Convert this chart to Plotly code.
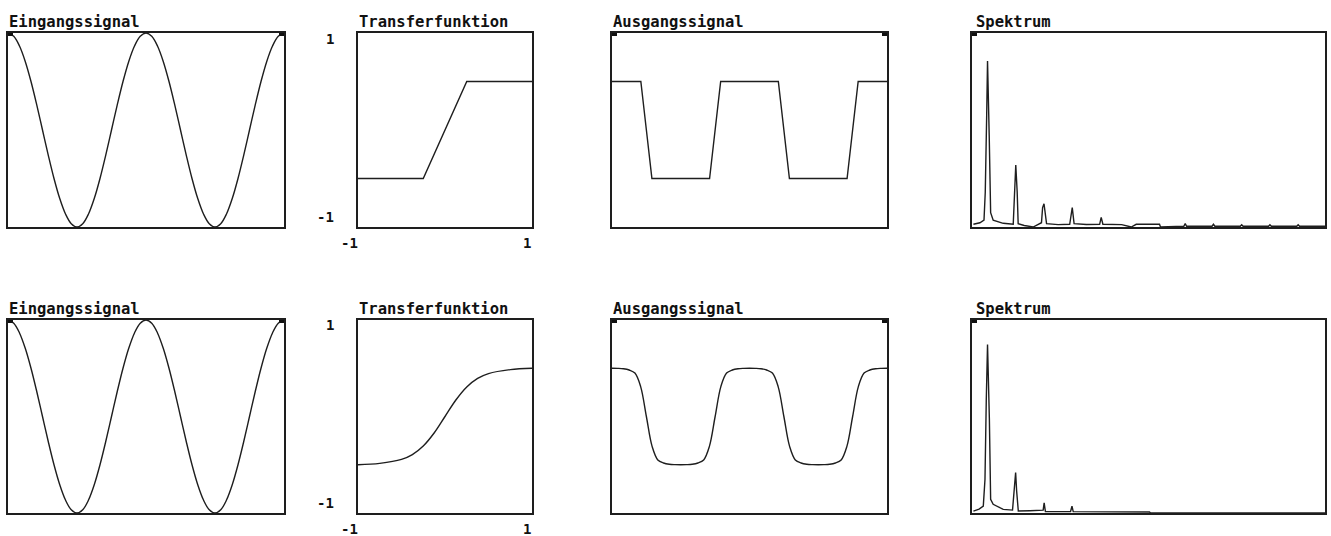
import plotly.graph_objects as go

W, H = 1331, 536

# ---------------- data ----------------
phase_deg = [0, 15, 30, 45, 60, 75, 90, 105, 120, 135, 150, 165, 180, 195, 210, 225,
             240, 255, 270, 285, 300, 315, 330, 345, 360, 375, 390, 405, 420, 435, 450,
             465, 480, 495, 510, 525, 540, 555, 570, 585, 600, 615, 630, 645, 660, 675,
             690, 705, 720]

input_signal = [1, 0.966, 0.866, 0.707, 0.5, 0.259, 0, -0.259, -0.5, -0.707, -0.866, -0.966,
                -1, -0.966, -0.866, -0.707, -0.5, -0.259, 0, 0.259, 0.5, 0.707, 0.866, 0.966,
                1, 0.966, 0.866, 0.707, 0.5, 0.259, 0, -0.259, -0.5, -0.707, -0.866, -0.966,
                -1, -0.966, -0.866, -0.707, -0.5, -0.259, 0, 0.259, 0.5, 0.707, 0.866, 0.966,
                1]

# row 1: hard (piecewise linear) limiter
transfer1_x = [-1, -0.25, 0.25, 1]
transfer1_y = [-0.5, -0.5, 0.5, 0.5]

output1_phase = [0, 75.5, 90, 104.5, 255.5, 270, 284.5, 435.5, 450, 464.5, 615.5, 630, 644.5, 720]
output1_vals = [0.5, 0.5, 0, -0.5, -0.5, 0, 0.5, 0.5, 0, -0.5, -0.5, 0, 0.5, 0.5]

spec1_f = [0, 0.46, 0.75, 0.84, 0.94, 1.0, 1.12, 1.22, 1.4, 2.11, 2.82, 2.89, 3.0, 3.1, 3.17,
           3.6, 4.23, 4.82, 4.9, 5.0, 5.09, 5.18, 6.0, 6.82, 7.0, 7.13, 8.0, 8.94, 9.05, 9.17,
           10.5, 11.18, 11.53, 13.18, 13.25, 14.9, 15.0, 15.1, 15.5, 16.9, 17.0, 17.1, 18.9,
           19.0, 19.1, 20.9, 21.0, 21.1, 22.9, 23.0, 23.1, 24.9]
spec1_a = [0.014, 0.022, 0.035, 0.18, 0.575, 0.856, 0.466, 0.074, 0.035, 0.019, 0.014, 0.16,
           0.32, 0.18, 0.017, 0.008, 0.0, 0.022, 0.10, 0.12, 0.065, 0.017, 0.012, 0.014, 0.10,
           0.017, 0.013, 0.014, 0.05, 0.014, 0.012, 0.0, 0.014, 0.014, 0.0, 0.004, 0.017,
           0.004, 0.004, 0.004, 0.014, 0.004, 0.004, 0.012, 0.004, 0.004, 0.012, 0.004,
           0.004, 0.012, 0.004, 0.004]

# row 2: soft (tanh-like) limiter
transfer2_x = [-1, -0.75, -0.5, -0.375, -0.25, -0.125, 0, 0.125, 0.25, 0.375, 0.5, 0.75, 1]
transfer2_y = [-0.5, -0.486, -0.445, -0.395, -0.306, -0.171, 0.0, 0.171, 0.306, 0.395, 0.445,
               0.486, 0.5]

output2_vals = [0.5, 0.499, 0.495, 0.482, 0.45, 0.31, 0, -0.31, -0.45, -0.482, -0.495, -0.499,
                -0.5, -0.499, -0.495, -0.482, -0.45, -0.31, 0, 0.31, 0.45, 0.482, 0.495, 0.499,
                0.5, 0.499, 0.495, 0.482, 0.45, 0.31, 0, -0.31, -0.45, -0.482, -0.495, -0.499,
                -0.5, -0.499, -0.495, -0.482, -0.45, -0.31, 0, 0.31, 0.45, 0.482, 0.495, 0.499,
                0.5]

spec2_f = [0, 0.4, 0.7, 0.82, 0.91, 1.0, 1.13, 1.22, 1.4, 2.11, 2.77, 2.87, 2.99, 3.06, 3.18,
           4.0, 4.94, 5.01, 5.1, 6.88, 6.98, 7.07, 9.0, 10.94, 12.47, 12.55, 24.9]
spec2_a = [0.01, 0.02, 0.036, 0.175, 0.58, 0.873, 0.49, 0.071, 0.045, 0.019, 0.015, 0.115,
           0.21, 0.115, 0.01, 0.012, 0.015, 0.052, 0.007, 0.008, 0.035, 0.007, 0.007, 0.007,
           0.005, 0.0, 0.0]

titles = ["Eingangssignal", "Transferfunktion", "Ausgangssignal", "Spektrum"]
tf_ticks = ["1", "-1"]

# ---------------- figure ----------------
LINE = "#1e1e1e"
FONT = "DejaVu Sans Mono"

x_px = [(8, 284), (358, 532), (612, 887), (972, 1325)]
y_px = [(33, 227), (320, 513)]

fig = go.Figure()

rows = [
    dict(tf_x=transfer1_x, tf_y=transfer1_y, tf_shape="linear",
         out_x=output1_phase, out_y=output1_vals, out_shape="linear",
         sp_x=spec1_f, sp_y=spec1_a),
    dict(tf_x=transfer2_x, tf_y=transfer2_y, tf_shape="spline",
         out_x=phase_deg, out_y=output2_vals, out_shape="spline",
         sp_x=spec2_f, sp_y=spec2_a),
]

layout = dict(width=W, height=H, margin=dict(l=0, r=0, t=0, b=0),
              paper_bgcolor="white", plot_bgcolor="white", showlegend=False)
annotations = []

ranges_x = [[0, 720], [-1, 1], [0, 720], [-0.1, 24.9]]
ranges_y = [[-1, 1], [-1, 1], [-1, 1], [0, 1.0]]

for r, row in enumerate(rows):
    traces = [
        (phase_deg, input_signal, "spline"),
        (row["tf_x"], row["tf_y"], row["tf_shape"]),
        (row["out_x"], row["out_y"], row["out_shape"]),
        (row["sp_x"], row["sp_y"], "linear"),
    ]
    y0, y1 = y_px[r]
    for c in range(4):
        k = r * 4 + c + 1
        sfx = "" if k == 1 else str(k)
        xs, ys, shp = traces[c]
        fig.add_trace(go.Scatter(x=xs, y=ys, mode="lines",
                                 line=dict(color=LINE, width=1.4, shape=shp,
                                           smoothing=1.0 if shp == "spline" else None),
                                 xaxis="x" + sfx, yaxis="y" + sfx, hoverinfo="skip"))
        x0, x1 = x_px[c]
        layout["xaxis" + sfx] = dict(domain=[x0 / W, x1 / W], range=ranges_x[c],
                                     anchor="y" + sfx, showgrid=False, zeroline=False,
                                     showticklabels=False, ticks="", showline=True,
                                     mirror=True, linecolor=LINE, linewidth=1.5,
                                     fixedrange=True)
        yax = dict(domain=[1 - y1 / H, 1 - y0 / H], range=ranges_y[c],
                   anchor="x" + sfx, showgrid=False, zeroline=False,
                   showticklabels=False, showline=True, mirror=True,
                   linecolor=LINE, linewidth=1.5, fixedrange=True)
        if c in (0, 2, 3):
            top = ranges_y[c][1]
            yax.update(ticks="inside", tickvals=[top - 0.006 * (top - ranges_y[c][0])],
                       ticklen=5, tickwidth=2.5, tickcolor="#111",
                       mirror="ticks" if c in (0, 2) else True)
        layout["yaxis" + sfx] = yax

        # panel title
        annotations.append(dict(text="<b>%s</b>" % titles[c], xref="paper", yref="paper",
                                x=x0 / W if c != 3 else 975 / W,
                                y=1 - (21.5 if r == 0 else 308.5) / H,
                                xanchor="left", yanchor="middle", showarrow=False,
                                xshift=-1,
                                font=dict(family=FONT, size=15.5, color="#111")))

        if c == 1:
            # tick labels of the transfer function
            fnt = dict(family=FONT, size=14, color="#111")
            annotations.append(dict(text="<b>%s</b>" % tf_ticks[0], xref="x%s domain" % sfx,
                                    yref="y" + sfx, x=0, y=1, xanchor="right",
                                    yanchor="middle", xshift=-22,
                                    yshift=-6 if r == 0 else -5,
                                    showarrow=False, font=fnt))
            annotations.append(dict(text="<b>%s</b>" % tf_ticks[1], xref="x%s domain" % sfx,
                                    yref="y" + sfx, x=0, y=-1, xanchor="right",
                                    yanchor="middle", xshift=-22, yshift=10,
                                    showarrow=False, font=fnt))
            annotations.append(dict(text="<b>%s</b>" % tf_ticks[1], xref="x" + sfx,
                                    yref="y%s domain" % sfx, x=-1, y=0, xanchor="right",
                                    yanchor="middle", xshift=2, yshift=-16,
                                    showarrow=False, font=fnt))
            annotations.append(dict(text="<b>%s</b>" % tf_ticks[0], xref="x" + sfx,
                                    yref="y%s domain" % sfx, x=1, y=0, xanchor="right",
                                    yanchor="middle", xshift=1, yshift=-16,
                                    showarrow=False, font=fnt))

layout["annotations"] = annotations
fig.update_layout(**layout)
fig.write_html("out.html")
